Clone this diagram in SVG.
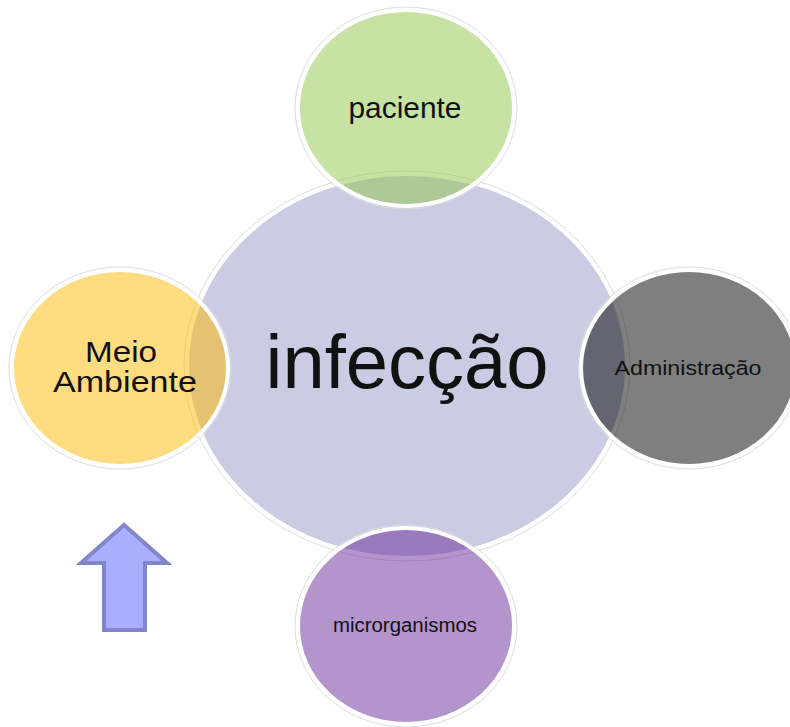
<svg xmlns="http://www.w3.org/2000/svg" width="790" height="727" viewBox="0 0 790 727">
<style>
.ring{stroke:#ffffff;stroke-width:4}
.halo{fill:none;stroke:#dcdcdc;stroke-width:1}
.lbl{font-family:"Liberation Sans",Arial,sans-serif;text-anchor:middle;fill:#111}
</style>
<rect width="790" height="727" fill="#ffffff"/>
<g id="center">
<ellipse class="halo" cx="407" cy="366" rx="223" ry="195"/>
<ellipse class="ring" cx="407" cy="366" rx="220" ry="192" fill="#CBCBE3"/>
<text class="lbl" x="407" y="388" font-size="76" fill="#000" textLength="283" lengthAdjust="spacingAndGlyphs">infecção</text>
</g>
<g id="paciente">
<ellipse class="halo" cx="406" cy="108" rx="111" ry="101"/>
<ellipse class="ring" cx="406" cy="108" rx="108" ry="98" fill="rgb(141,199,73)" fill-opacity="0.5"/>
<text class="lbl" x="405" y="118" font-size="29" textLength="113" lengthAdjust="spacingAndGlyphs">paciente</text>
</g>
<g id="meio-ambiente">
<ellipse class="halo" cx="120" cy="368" rx="111" ry="101"/>
<ellipse class="ring" cx="120" cy="368" rx="108" ry="98" fill="rgb(253,185,0)" fill-opacity="0.5"/>
<text class="lbl" x="121" y="362" font-size="30" textLength="72" lengthAdjust="spacingAndGlyphs">Meio</text>
<text class="lbl" x="125" y="392" font-size="30" textLength="144" lengthAdjust="spacingAndGlyphs">Ambiente</text>
</g>
<g id="administracao">
<ellipse class="halo" cx="689" cy="368" rx="111" ry="101"/>
<ellipse class="ring" cx="689" cy="368" rx="108" ry="98" fill="#000000" fill-opacity="0.5"/>
<text class="lbl" x="688" y="375" font-size="20" textLength="147" lengthAdjust="spacingAndGlyphs">Administração</text>
</g>
<g id="microrganismos">
<ellipse class="halo" cx="406" cy="626" rx="111" ry="101"/>
<ellipse class="ring" cx="406" cy="626" rx="108" ry="98" fill="rgb(103,41,153)" fill-opacity="0.5"/>
<text class="lbl" x="405" y="632" font-size="20" textLength="144" lengthAdjust="spacingAndGlyphs" fill="#222">microrganismos</text>
</g>
<g id="arrow">
<path d="M124,525 L81,563 L104,563 L104,630 L145,630 L145,563 L167,563 Z" fill="#A9AEFF" stroke="#8185C9" stroke-width="4" stroke-linejoin="miter"/>
</g>
</svg>
